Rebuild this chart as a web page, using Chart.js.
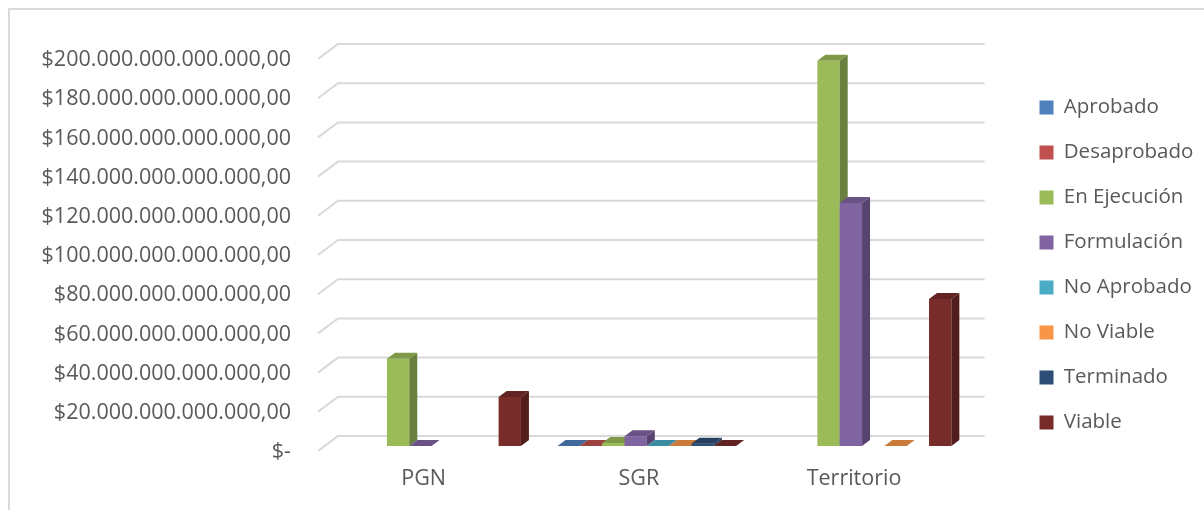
<!DOCTYPE html>
<html>
<head>
<meta charset="utf-8">
<script src="https://cdn.jsdelivr.net/npm/chart.js@4/dist/chart.umd.min.js"></script>
<style>
  html, body { margin: 0; padding: 0; background: #fff; }
  #wrap { position: relative; width: 1204px; height: 510px; overflow: hidden; }
  #frame { position: absolute; left: 8px; top: 8px; width: 1300px; height: 600px;
    border: 2px solid #dadada; box-sizing: border-box; }
  canvas { position: absolute; left: 0; top: 0; }
</style>
</head>
<body>
<div id="wrap">
  <div id="frame"></div>
  <canvas id="c" width="1204" height="510"></canvas>
</div>
<script>
/* barras 3D tipo Excel: caras frontal, superior y lateral */
const INK = '#595959', GRID = '#d9d9d9';
const FONT = { family: '"Open Sans", sans-serif', size: 21.5 };

const CATEGORIAS = ['PGN', 'SGR', 'Territorio'];
const SERIES = ['Aprobado', 'Desaprobado', 'En Ejecución', 'Formulación',
  'No Aprobado', 'No Viable', 'Terminado', 'Viable'];
const COLORES = ['#4f81bd', '#c0504d', '#9bbb59', '#8064a2',
  '#4bacc6', '#f79646', '#2c4d75', '#772c2a'];

// valores en billones de pesos (1e12); null = sin barra
const aprobado    = [null, 0, null];
const desaprobado = [null, 0, null];
const ejecucion   = [44.5, 1.5, 196.5];
const formulacion = [0, 5, 124];
const noAprobado  = [null, 0, null];
const noViable    = [null, 0, 0];
const terminado   = [null, 1.2, null];
const viable      = [25, 0, 75];
const VALORES = [aprobado, desaprobado, ejecucion, formulacion, noAprobado, noViable, terminado, viable];

const Y_TICKS = [0, 20, 40, 60, 80, 100, 120, 140, 160, 180, 200];

const DX = 8, DY = 6;   // profundidad de cada barra
const fmt = new Intl.NumberFormat('de-DE', { minimumFractionDigits: 2, maximumFractionDigits: 2 });

function shade(hex, f) {
  const n = parseInt(hex.slice(1), 16);
  const r = Math.round((n >> 16) * f), g = Math.round(((n >> 8) & 255) * f), b = Math.round((n & 255) * f);
  return `rgb(${r},${g},${b})`;
}

const wallGrid = {
  id: 'wallGrid',
  beforeDatasetsDraw(chart) {
    const { ctx, chartArea: a, scales: { y } } = chart;
    ctx.save();
    ctx.strokeStyle = GRID; ctx.lineWidth = 2;
    y.ticks.forEach(t => {
      const p = y.getPixelForValue(t.value);
      ctx.beginPath();
      ctx.moveTo(a.left - 6, p + 5);
      ctx.lineTo(a.left + 14, p - 10);
      ctx.lineTo(a.right + 15, p - 10);
      ctx.stroke();
    });
    ctx.restore();
  }
};

const bars3d = {
  id: 'bars3d',
  beforeDatasetDraw() { return false; },
  afterDatasetsDraw(chart) {
    const ctx = chart.ctx;
    ctx.save();
    CATEGORIAS.forEach((_, i) => {
      chart.data.datasets.forEach((ds, d) => {
        if (ds.data[i] == null) return;
        const el = chart.getDatasetMeta(d).data[i];
        const x0 = el.x - el.width / 2, x1 = el.x + el.width / 2;
        const yt = el.y, yb = el.base;
        const col = COLORES[d];
        // frente
        ctx.fillStyle = col;
        ctx.fillRect(x0, yt, x1 - x0, yb - yt);
        // lateral
        ctx.fillStyle = shade(col, 0.68);
        ctx.beginPath();
        ctx.moveTo(x1, yt); ctx.lineTo(x1 + DX, yt - DY);
        ctx.lineTo(x1 + DX, yb - DY); ctx.lineTo(x1, yb); ctx.closePath(); ctx.fill();
        // tapa
        ctx.fillStyle = shade(col, 0.82);
        ctx.beginPath();
        ctx.moveTo(x0, yt); ctx.lineTo(x1, yt);
        ctx.lineTo(x1 + DX, yt - DY); ctx.lineTo(x0 + DX, yt - DY); ctx.closePath(); ctx.fill();
      });
    });
    ctx.restore();
  }
};

// coloca la leyenda donde la deja Excel
const legendPos = {
  id: 'legendPos',
  afterLayout(chart) {
    const lg = chart.legend;
    const dx = 1015 - lg.left, dy = 265 - (lg.top + lg.bottom) / 2;
    lg.left += dx; lg.right += dx; lg.top += dy; lg.bottom += dy;
  }
};

new Chart('c', {
  type: 'bar',
  data: {
    labels: CATEGORIAS,
    datasets: SERIES.map((s, k) => ({
      label: s, data: VALORES[k], backgroundColor: COLORES[k], borderWidth: 0,
      categoryPercentage: 0.83, barPercentage: 1
    }))
  },
  options: {
    responsive: false, animation: false,
    layout: { padding: { left: 40, top: 54, right: 46, bottom: 0 } },
    plugins: {
      tooltip: { enabled: false },
      legend: {
        position: 'right',
        labels: { boxWidth: 14, boxHeight: 14, padding: 24.5, color: INK,
          font: { family: FONT.family, size: 20.5 } }
      }
    },
    scales: {
      x: {
        afterFit: s => { s.height = 64; },
        grid: { display: false, drawTicks: false }, border: { display: false },
        ticks: { color: INK, padding: 20, labelOffset: -8, font: FONT }
      },
      y: {
        min: 0, max: 200,
        afterFit: s => { s.width = 284; },
        afterBuildTicks: s => { s.ticks = Y_TICKS.map(v => ({ value: v })); },
        grid: { display: false, drawTicks: false }, border: { display: false },
        ticks: {
          color: INK, padding: 33, labelOffset: 6, font: FONT,
          callback: v => v === 0 ? '$-' : '$' + fmt.format(v * 1e12)
        }
      }
    }
  },
  plugins: [wallGrid, bars3d, legendPos]
});
</script>
</body>
</html>
